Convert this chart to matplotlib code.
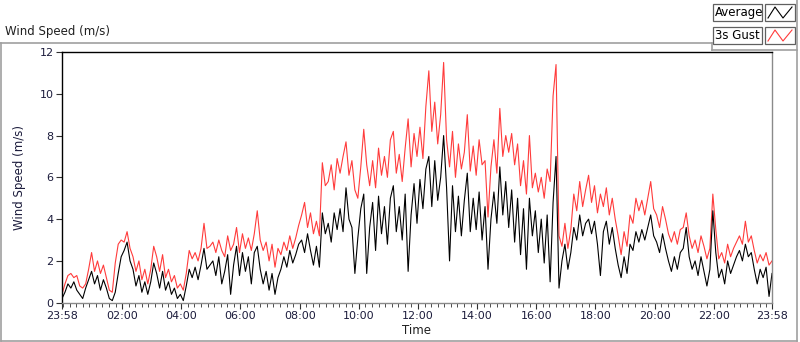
import matplotlib
matplotlib.use("Agg")
import matplotlib.pyplot as plt
import numpy as np
from matplotlib.lines import Line2D
from matplotlib.patches import Rectangle

# minutes since 23:58, one sample every 6 min
minutes = list(range(0, 1441, 6))

gust = [
    0.4, 0.9, 1.3, 1.4, 1.2, 1.3, 0.8, 0.7, 0.9, 1.6,
    2.4, 1.5, 2.0, 1.4, 1.8, 1.2, 0.6, 0.5, 1.9, 2.8,
    3.0, 2.9, 3.4, 2.6, 2.2, 1.5, 2.0, 1.1, 1.6, 0.9,
    1.6, 2.7, 2.2, 1.5, 2.3, 1.2, 1.6, 1.0, 1.3, 0.7,
    0.9, 0.6, 1.4, 2.5, 2.1, 2.4, 2.0, 2.6, 3.8, 2.6,
    2.7, 2.9, 2.4, 3.0, 2.5, 2.2, 3.2, 2.5, 2.8, 3.6,
    2.4, 3.3, 2.6, 3.1, 2.5, 3.3, 4.4, 3.0, 2.5, 2.9,
    2.0, 2.8, 1.7, 2.6, 2.3, 2.9, 2.5, 3.2, 2.6, 3.1,
    3.7, 4.2, 4.8, 3.6, 4.3, 3.3, 3.9, 3.2, 6.7, 5.6,
    5.8, 6.6, 5.4, 6.9, 6.2, 7.0, 7.7, 6.1, 6.8, 5.4,
    5.0, 6.5, 8.3, 6.6, 5.6, 6.8, 5.5, 7.4, 6.1, 7.0,
    6.0, 7.8, 8.2, 6.2, 7.1, 5.8, 7.4, 8.8, 6.5, 8.1,
    7.0, 8.4, 6.9, 9.4, 11.1, 8.2, 9.6, 7.6, 9.0, 11.5,
    7.8, 6.5, 8.2, 6.0, 7.6, 6.4, 7.2, 9.0, 6.3, 7.5,
    6.1, 7.8, 6.6, 6.8, 4.1, 6.5, 7.8, 6.2, 9.3, 7.0,
    8.0, 7.2, 8.1, 6.6, 7.6, 5.6, 6.8, 5.2, 8.0, 5.5,
    6.2, 5.3, 6.0, 5.0, 6.4, 5.8, 9.9, 11.4, 3.2, 2.7,
    3.8, 2.6, 3.5, 5.2, 4.4, 5.8, 4.6, 5.4, 6.1, 4.8,
    5.6, 4.3, 5.2, 4.6, 5.5, 4.2, 5.0, 4.0, 3.2, 2.3,
    3.4, 2.7, 4.2, 3.8, 5.0, 4.4, 4.9, 4.2, 5.0, 5.8,
    4.5, 4.2, 3.6, 4.6, 4.0, 3.3, 2.9, 3.4, 2.8, 3.5,
    3.6, 4.3, 3.2, 2.6, 3.0, 2.4, 3.2, 2.7, 2.1, 2.6,
    5.2, 3.5, 2.1, 2.4, 1.9, 2.8, 2.2, 2.6, 2.9, 3.2,
    2.8, 3.9, 2.9, 3.2, 2.5, 1.9, 2.3, 2.0, 2.4, 1.8,
    2.0,
]

average = [
    0.2, 0.5, 0.9, 0.7, 1.0, 0.6, 0.4, 0.2, 0.7, 1.1,
    1.5, 0.9, 1.3, 0.6, 1.1, 0.7, 0.2, 0.1, 0.5, 1.4,
    2.2, 2.5, 2.9, 2.0, 1.6, 0.8, 1.3, 0.5, 1.0, 0.4,
    1.0, 1.9, 1.4, 0.7, 1.5, 0.6, 1.0, 0.4, 0.7, 0.2,
    0.4, 0.1, 0.8, 1.6, 1.2, 1.7, 1.1, 1.8, 2.6, 1.6,
    1.8, 2.0, 1.3, 2.2, 0.9, 1.5, 2.3, 0.4, 1.8, 2.7,
    1.3, 2.4, 1.5, 2.2, 0.9, 2.4, 2.7, 1.6, 0.9, 1.5,
    0.6, 1.4, 0.4, 1.2, 1.6, 2.2, 1.7, 2.5, 1.9, 2.3,
    2.8, 3.0, 2.4, 3.3, 2.5, 1.8, 2.7, 1.7, 4.3, 3.3,
    3.8, 2.9, 4.3, 3.5, 4.5, 3.4, 5.5, 4.0, 3.6, 1.4,
    3.1, 4.5, 5.2, 1.4, 3.6, 4.8, 2.5, 5.1, 3.3, 4.6,
    2.8, 5.0, 5.6, 3.4, 4.6, 3.0, 5.2, 1.5, 4.2, 5.7,
    3.8, 5.9, 4.5, 6.4, 7.0, 4.6, 6.8, 4.9, 6.0, 8.0,
    5.5, 2.0, 5.6, 3.4, 5.1, 3.2, 4.9, 6.2, 3.4, 5.0,
    3.5, 5.3, 3.0, 4.6, 1.6, 4.0, 5.3, 3.8, 6.5, 4.2,
    5.8, 3.6, 5.4, 2.9, 5.0, 2.3, 4.5, 1.6, 5.0, 3.2,
    4.4, 2.4, 4.0, 1.9, 4.2, 1.0, 4.8, 7.0, 0.7, 2.0,
    2.8, 1.6, 2.4, 3.6, 3.0, 4.2, 3.2, 3.8, 4.0, 3.3,
    3.9, 2.8, 1.3, 3.4, 3.9, 2.8, 3.6, 2.6, 1.8, 1.2,
    2.2, 1.4, 2.8, 2.5, 3.4, 2.9, 3.5, 3.0, 3.6, 4.2,
    3.2, 2.9, 2.4, 3.3, 2.6, 2.0, 1.5, 2.2, 1.6, 2.4,
    2.6, 3.6, 2.2, 1.6, 2.0, 1.3, 2.2, 1.5, 0.8, 1.6,
    4.4, 2.4, 1.2, 1.6, 0.9, 2.0, 1.4, 1.8, 2.2, 2.5,
    2.0, 2.8, 2.2, 2.4, 1.6, 0.9, 1.6, 1.2, 1.7, 0.3,
    1.4,
]

tick_pos = [0, 122, 242, 362, 482, 602, 722, 842, 962, 1082, 1202, 1322, 1440]
tick_labels = ["23:58", "02:00", "04:00", "06:00", "08:00", "10:00", "12:00",
               "14:00", "16:00", "18:00", "20:00", "22:00", "23:58"]
legend_names = ["Average", "3s Gust"]

W, H = 800, 342
TXT = "#1c1c3c"
GREY = "#a0a0a0"


def fx(x):
    return x / W


def fy(y):
    return 1 - y / H


fig = plt.figure(figsize=(8, 3.42), dpi=100)
fig.patch.set_facecolor("white")

# outer graph frame (LabVIEW style)
frame = [((1, 1), (42.5, 341)), ((0, 712), (42.5, 42.5)), ((712, 712), (42.5, 49.5)),
         ((712, 797), (49.5, 49.5)), ((797, 797), (0, 341)), ((1, 797), (341, 341))]
for xs, ys in frame:
    fig.add_artist(Line2D([fx(v) for v in xs], [fy(v) for v in ys], color=GREY, lw=1.2))

fig.text(fx(5), fy(32), "Wind Speed (m/s)", fontsize=8.5, color="#202020",
         ha="left", va="center")

ax = fig.add_axes([fx(62), fy(302.7), fx(772) - fx(62), fy(52) - fy(302.7)])
ax.plot(minutes, gust, color="#ff3b3b", lw=0.8)
ax.plot(minutes, average, color="black", lw=0.8)
ax.set_xlim(0, 1440)
ax.set_ylim(0, 12)
ax.set_yticks(range(0, 13, 2))
ax.set_xticks(tick_pos)
ax.set_xticklabels(tick_labels)
minor = [122 + k * 120 / 9 for k in range(-9, 99)]
minor = [m for m in minor if 0 < m < 1440]
ax.set_xticks(minor, minor=True)
ax.tick_params(axis="both", which="major", labelsize=8, labelcolor=TXT, length=4,
               color="#303030", pad=2)
ax.tick_params(axis="x", which="minor", length=3, color="#303030")
for s in ["top", "left"]:
    ax.spines[s].set_color("black")
    ax.spines[s].set_linewidth(1.0)
for s in ["bottom", "right"]:
    ax.spines[s].set_color("#8a8a8a")
    ax.spines[s].set_linewidth(1.0)
ax.set_xlabel("Time", fontsize=8.5, color="#202020", labelpad=2)
ax.set_ylabel("Wind Speed (m/s)", fontsize=8.5, color=TXT, labelpad=10)

# legend: name box + small zigzag icon box for each plot
colors = ["black", "#ff3b3b"]
rows = [(4, 21), (27, 44)]
for name, col, (y0, y1) in zip(legend_names, colors, rows):
    fig.add_artist(Rectangle((fx(713), fy(y1)), fx(762) - fx(713), fy(y0) - fy(y1),
                             transform=fig.transFigure, fc="white", ec="#606060", lw=0.9))
    fig.text(fx(715), fy((y0 + y1) / 2), name, fontsize=8.5, color="black",
             ha="left", va="center")
    fig.add_artist(Rectangle((fx(765), fy(y1)), fx(795) - fx(765), fy(y0) - fy(y1),
                             transform=fig.transFigure, fc="white", ec="#606060", lw=0.9))
    zx = [768, 775, 783, 792]
    zy = [y1 - 3, y0 + 3, y1 - 3, y0 + 3]
    fig.add_artist(Line2D([fx(v) for v in zx], [fy(v) for v in zy], color=col, lw=0.8))

fig.savefig("out.png", dpi=100)
